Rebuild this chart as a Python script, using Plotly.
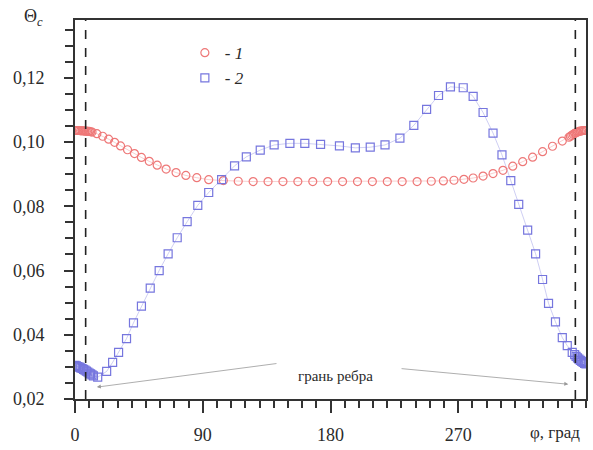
import plotly.graph_objects as go

# Series 1: open red circles
phi_1 = [0, 1, 2, 3, 4, 5, 6, 7, 8, 9, 10, 11, 12,
         15.4, 19.5, 23.7, 27.9, 32.1, 37.0, 41.9, 46.8, 52.3, 57.9, 64.2, 71.2,
         78.1, 85.8, 94.2, 104.5, 115.0, 125.5, 136.0, 146.5, 157.0, 167.5, 178.0,
         188.5, 199.0, 209.5, 220.0, 230.5, 241.0, 251.0, 259.5, 267.0, 274.0,
         280.5, 287.5, 294.5, 301.5, 308.4, 315.4, 322.4, 329.4, 336.4, 343.3,
         348, 349, 350, 351, 352, 353, 354, 355, 356, 357, 358, 359, 360]
theta_1 = [0.1036, 0.1036, 0.1036, 0.1036, 0.1035, 0.1035, 0.1035, 0.1034, 0.1034,
           0.1033, 0.1033, 0.1032, 0.1031,
           0.1026, 0.1018, 0.1009, 0.0999, 0.0988, 0.0976, 0.0964, 0.0952, 0.0940,
           0.0928, 0.0916, 0.0905, 0.0896, 0.0889, 0.0883, 0.0880, 0.0878, 0.0877,
           0.0877, 0.0877, 0.0877, 0.0877, 0.0877, 0.0877, 0.0877, 0.0877, 0.0877,
           0.0877, 0.0877, 0.0878, 0.0879, 0.0881, 0.0884, 0.0888, 0.0894, 0.0902,
           0.0912, 0.0925, 0.0939, 0.0953, 0.0970, 0.0987, 0.1003, 0.1015,
           0.1018, 0.1021, 0.1024, 0.1027, 0.1029, 0.1031, 0.1033, 0.1034, 0.1035,
           0.1036, 0.1036, 0.1036]

# Series 2: open blue squares
phi_2 = [0, 1, 2, 3, 4, 5, 6, 7, 8, 9, 10, 11, 12, 13,
         16.0, 22.3, 26.5, 30.7, 36.3, 41.2, 46.8, 53.0, 59.3, 65.6, 72.0, 79.0,
         86.5, 94.2, 103.3, 112.4, 120.7, 130.5, 140.3, 151.4, 161.9, 173.0, 186.3,
         197.5, 208.0, 218.4, 228.9, 238.7, 247.7, 256.1, 264.5, 273.5, 280.5,
         287.5, 294.5, 300.8, 307.0, 312.6, 318.9, 324.5, 329.4, 333.6, 338.5,
         343.3, 346.8, 350.3, 352, 353, 354, 355, 356, 357, 358, 359, 360]
theta_2 = [0.0305, 0.0303, 0.0301, 0.0299, 0.0297, 0.0295, 0.0292, 0.0290, 0.0287,
           0.0284, 0.0281, 0.0278, 0.0275, 0.0272,
           0.0268, 0.0286, 0.0314, 0.0345, 0.0388, 0.0437, 0.0489, 0.0545, 0.0600,
           0.0652, 0.0702, 0.0752, 0.0803, 0.0843, 0.0883, 0.0926, 0.0954, 0.0975,
           0.0991, 0.0996, 0.0996, 0.0993, 0.0988, 0.0982, 0.0984, 0.0991, 0.1012,
           0.1052, 0.1102, 0.1145, 0.1172, 0.1169, 0.1142, 0.1092, 0.1028, 0.0960,
           0.0880, 0.0806, 0.0726, 0.0652, 0.0572, 0.0498, 0.0440, 0.0391, 0.0366,
           0.0345, 0.0338, 0.0333, 0.0328, 0.0324, 0.0320, 0.0317, 0.0314, 0.0311,
           0.0309]

# Rib face boundaries (dashed verticals)
edge_angles = [7.5, 352.5]

x_ticks = [0, 90, 180, 270]
x_tick_labels = ["0", "90", "180", "270"]
y_ticks = [0.02, 0.04, 0.06, 0.08, 0.10, 0.12]

RED = "rgb(238,120,120)"
BLUE = "rgb(118,118,222)"
FONT = "Liberation Serif, DejaVu Serif, serif"
INK = "#2a2a2a"

W, H = 593, 450
L, R, T, B = 75, 5, 20, 47
PW, PH = W - L - R, H - T - B


def paper_x(px):
    return (px - L) / PW


def paper_y(py):
    return (H - B - py) / PH


fig = go.Figure()

# thin connecting lines
fig.add_trace(go.Scatter(x=phi_1, y=theta_1, mode="lines",
                         line=dict(color="rgba(238,120,120,0.45)", width=0.8),
                         showlegend=False, hoverinfo="skip"))
fig.add_trace(go.Scatter(x=phi_2, y=theta_2, mode="lines",
                         line=dict(color="rgba(118,118,222,0.45)", width=0.8),
                         showlegend=False, hoverinfo="skip"))

fig.add_trace(go.Scatter(x=phi_1, y=theta_1, mode="markers", name="- <i>1</i>",
                         marker=dict(symbol="circle-open", size=8,
                                     color=RED, line=dict(width=1.2, color=RED))))
fig.add_trace(go.Scatter(x=phi_2, y=theta_2, mode="markers", name="- <i>2</i>",
                         marker=dict(symbol="square-open", size=8,
                                     color=BLUE, line=dict(width=1.2, color=BLUE))))

for a in edge_angles:
    fig.add_shape(type="line", xref="x", yref="paper", x0=a, x1=a, y0=0, y1=1,
                  line=dict(color="#222", width=1.6, dash="dash"))

# "грань ребра" label with arrows pointing to both face edges
fig.add_annotation(x=183.5, y=0.0272, xref="x", yref="y", text="грань ребра",
                   showarrow=False, font=dict(family=FONT, size=15, color=INK))
fig.add_annotation(x=15.4, y=0.0237, ax=143, ay=0.0311, xref="x", yref="y",
                   axref="x", ayref="y", text="", showarrow=True, arrowhead=2,
                   arrowsize=1, arrowwidth=0.8, arrowcolor="#999")
fig.add_annotation(x=347.5, y=0.0246, ax=229, ay=0.0295, xref="x", yref="y",
                   axref="x", ayref="y", text="", showarrow=True, arrowhead=2,
                   arrowsize=1, arrowwidth=0.8, arrowcolor="#999")

# axis titles
fig.add_annotation(x=paper_x(22), y=paper_y(17), xref="paper", yref="paper",
                   text="Θ<sub><i>c</i></sub>", showarrow=False,
                   xanchor="left", yanchor="middle",
                   font=dict(family=FONT, size=18, color=INK))
fig.add_annotation(x=paper_x(530), y=paper_y(437), xref="paper", yref="paper",
                   text="φ, град", showarrow=False, xanchor="left", yanchor="middle",
                   font=dict(family=FONT, size=17, color=INK))

fig.update_layout(
    width=W, height=H,
    margin=dict(l=L, r=R, t=T, b=B),
    paper_bgcolor="white", plot_bgcolor="white",
    separators=", ",
    font=dict(family=FONT, size=18, color=INK),
    legend=dict(x=0.215, y=0.96, xanchor="left", yanchor="top",
                bgcolor="rgba(0,0,0,0)", font=dict(family=FONT, size=17, color=INK),
                itemwidth=30, tracegroupgap=0),
    xaxis=dict(range=[0, 360], tickvals=x_ticks, ticktext=x_tick_labels,
               showgrid=False, zeroline=False, showline=True, linecolor="#333",
               linewidth=2, mirror=True, ticks="outside", ticklen=12, tickwidth=2,
               tickcolor="#333", ticklabelstandoff=6,
               tickfont=dict(family=FONT, size=18, color=INK),
               minor=dict(dtick=10, tick0=0, ticks="outside", ticklen=7,
                          tickwidth=1.5, tickcolor="#333"),
               fixedrange=True),
    yaxis=dict(range=[0.02, 0.138], tickvals=y_ticks, tickformat=".2f",
               showgrid=False, zeroline=False, showline=True, linecolor="#333",
               linewidth=2, mirror=True, ticks="outside", ticklen=9, tickwidth=2,
               tickcolor="#333", ticklabelstandoff=16,
               tickfont=dict(family=FONT, size=18, color=INK),
               minor=dict(dtick=0.005, tick0=0, ticks="outside", ticklen=8,
                          tickwidth=1.5, tickcolor="#333"),
               fixedrange=True),
)

fig.write_html("out.html")
